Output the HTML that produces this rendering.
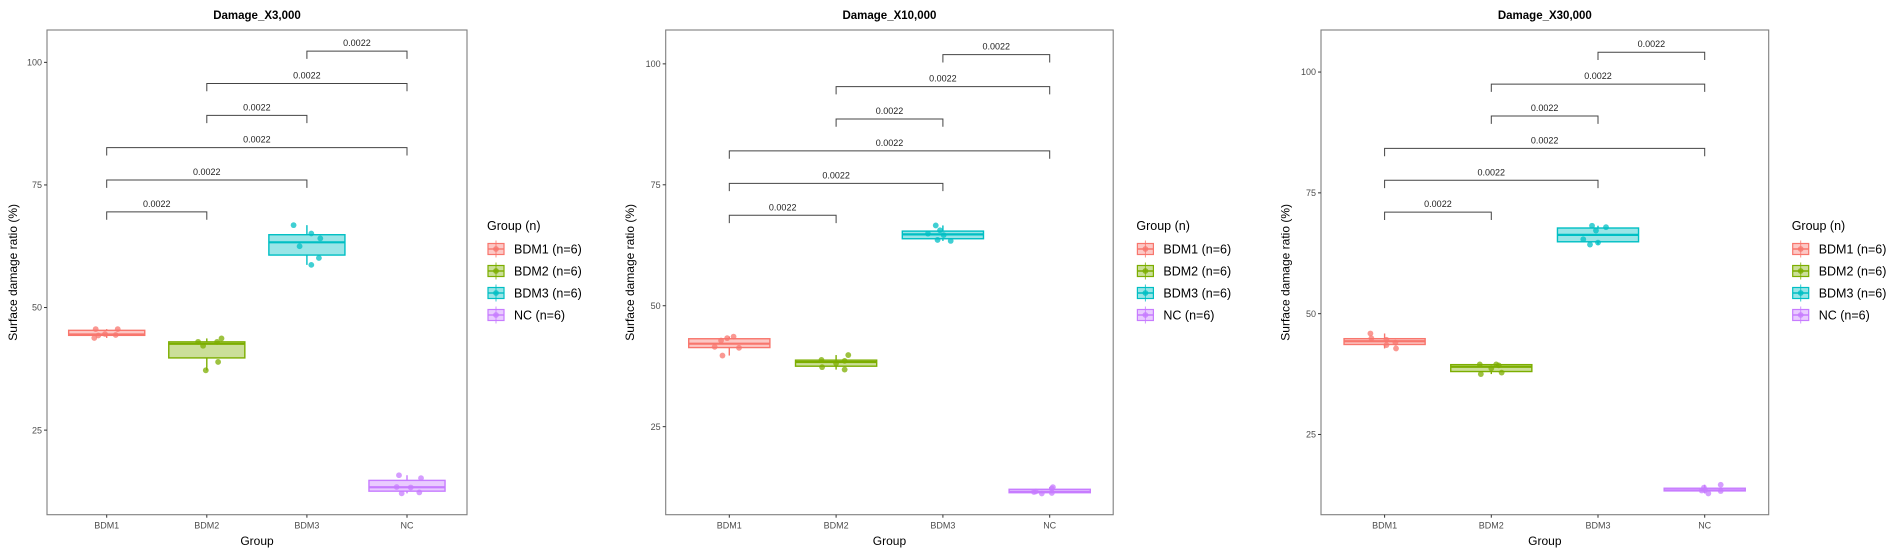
<!DOCTYPE html>
<html><head><meta charset="utf-8"><title>Surface damage ratio box plots</title>
<style>
html,body{margin:0;padding:0;background:#fff;}
svg{display:block;font-family:"Liberation Sans",Arial,sans-serif;}
</style></head>
<body>
<svg id="chart" width="1902" height="557" viewBox="0 0 1902 557" xmlns="http://www.w3.org/2000/svg"></svg>
<script>
// ---- data ----
const categories = ["BDM1","BDM2","BDM3","NC"];
const panelTitles = ["Damage_X3,000","Damage_X10,000","Damage_X30,000"];
const yTicks = [25,50,75,100];
const legendLabels = ["BDM1 (n=6)","BDM2 (n=6)","BDM3 (n=6)","NC (n=6)"];
const pLabel = "0.0022";
const bracketPairs = [[0,1],[0,2],[0,3],[1,2],[1,3],[2,3]];

const p1_BDM1 = [45.6,45.6,43.8,44.6,44.4,44.3];
const p1_BDM2 = [43.0,42.2,43.0,43.7,38.9,37.2];
const p1_BDM3 = [66.8,65.1,64.1,62.5,60.1,58.7];
const p1_NC   = [15.8,15.2,13.4,13.3,12.1,12.3];
const p1_brackets = [69.5,76.0,82.6,89.2,95.7,102.3];

const p2_BDM1 = [41.5,39.7,42.8,43.3,43.6,41.3];
const p2_BDM2 = [38.8,37.3,38.6,36.8,39.8,38.1];
const p2_BDM3 = [66.6,65.6,64.9,63.6,63.4,64.6];
const p2_NC   = [11.5,11.2,12.2,11.3,12.5,11.6];
const p2_brackets = [68.7,75.3,82.0,88.6,95.3,101.9];

const p3_BDM1 = [45.9,44.9,44.6,43.5,44.0,42.8];
const p3_BDM2 = [39.5,37.5,39.5,39.3,37.8,38.7];
const p3_BDM3 = [68.2,67.9,67.2,65.4,64.3,64.7];
const p3_NC   = [14.0,14.6,12.8,13.3,13.4,13.5];
const p3_brackets = [71.0,77.6,84.2,90.9,97.5,104.1];

// jitter offsets (fraction of category spacing)
const jit = [
 [[-0.11,0.11,-0.124,-0.017,0.09,-0.084],[-0.087,-0.037,0.103,0.147,0.113,-0.01],[-0.133,0.044,0.134,-0.073,0.12,0.044],[-0.08,0.14,-0.103,0.037,-0.053,0.123]],
 [[-0.137,-0.064,-0.077,-0.02,0.04,0.091],[-0.137,-0.131,0.08,0.08,0.114,0],[-0.067,-0.027,-0.14,-0.05,0.073,0.007],[-0.148,-0.074,0.02,0.02,0.03,-0.131]],
 [[-0.133,-0.124,0.017,0.017,0.101,0.107],[-0.108,-0.098,0.046,0.07,0.097,0],[-0.056,0.075,-0.019,-0.138,-0.075,0],[-0.007,0.15,0.034,0.15,-0.028,0.003]]
];

const colors = ["#F8766D","#7CAE00","#00BFC4","#C77CFF"];
const panels = [
 {x0:47,x1:467,y0:30,y1:514.7,cat0:106.7,step:100.1,ymin:7.75,ymax:106.6,ytx:13,legX:487,
  groups:[p1_BDM1,p1_BDM2,p1_BDM3,p1_NC],brackets:p1_brackets},
 {x0:665.7,x1:1113.2,y0:30,y1:514.7,cat0:729.3,step:106.8,ymin:6.8,ymax:107.0,ytx:630,legX:1136.4,
  groups:[p2_BDM1,p2_BDM2,p2_BDM3,p2_NC],brackets:p2_brackets},
 {x0:1321,x1:1768.7,y0:30,y1:514.7,cat0:1384.6,step:106.7,ymin:8.4,ymax:108.7,ytx:1285.7,legX:1791.7,
  groups:[p3_BDM1,p3_BDM2,p3_BDM3,p3_NC],brackets:p3_brackets}
];

const svg = document.getElementById('chart');
const NS = "http://www.w3.org/2000/svg";
function mk(tag, attrs, parent){
  const e = document.createElementNS(NS, tag);
  for (const k in attrs) e.setAttribute(k, attrs[k]);
  (parent||svg).appendChild(e);
  return e;
}
function quant(arr, p){
  const s = arr.slice().sort((a,b)=>a-b);
  const h = (s.length-1)*p, lo = Math.floor(h), hi = Math.ceil(h);
  return s[lo] + (s[hi]-s[lo])*(h-lo);
}

panels.forEach((P, pi) => {
  const g = mk('g', {});
  
  
  const ys = v => P.y1 - (v - P.ymin) / (P.ymax - P.ymin) * (P.y1 - P.y0);
  const xs = i => P.cat0 + i * P.step;
  const bw = 0.76 * P.step;

  // title
  const t = mk('text', {x:(P.x0+P.x1)/2, y:19, 'text-anchor':'middle','font-size':'11.5','font-weight':'bold',fill:'#000'}, g);
  t.textContent = panelTitles[pi];
  
  

  // frame
  const fr = mk('rect', {x:P.x0, y:P.y0, width:P.x1-P.x0, height:P.y1-P.y0, fill:'#fff', stroke:'#7f7f7f','stroke-width':'1.1'}, g);
  
  

  // y ticks
  yTicks.forEach(v => {
    const y = ys(v);
    mk('line', {x1:P.x0-3, x2:P.x0, y1:y, y2:y, stroke:'#333','stroke-width':'1'}, g);
    const tl = mk('text', {x:P.x0-5, y:y+3.2, 'text-anchor':'end','font-size':'9',fill:'#4d4d4d'}, g);
    tl.textContent = v;
    
    
  });
  // x ticks
  categories.forEach((c, i) => {
    const x = xs(i);
    mk('line', {x1:x, x2:x, y1:P.y1, y2:P.y1+3, stroke:'#333','stroke-width':'1'}, g);
    const tl = mk('text', {x:x, y:P.y1+14, 'text-anchor':'middle','font-size':'9',fill:'#4d4d4d'}, g);
    tl.textContent = c;
    
    
  });
  // axis titles
  const xt = mk('text', {x:(P.x0+P.x1)/2, y:545, 'text-anchor':'middle','font-size':'12',fill:'#000'}, g);
  xt.textContent = 'Group';
  
  
  const cy = (P.y0+P.y1)/2;
  const yt = mk('text', {x:P.ytx+4, y:cy, 'text-anchor':'middle','font-size':'12',fill:'#000', transform:`rotate(-90 ${P.ytx+4} ${cy})`}, g);
  yt.textContent = 'Surface damage ratio (%)';
  
  

  // boxes
  P.groups.forEach((vals, gi) => {
    const q1 = quant(vals,0.25), med = quant(vals,0.5), q3 = quant(vals,0.75);
    const iqr = q3 - q1;
    const lo = Math.min(...vals.filter(v => v >= q1 - 1.5*iqr));
    const hi = Math.max(...vals.filter(v => v <= q3 + 1.5*iqr));
    const x = xs(gi), col = colors[gi];
    const bg = mk('g', {}, g);
    
    
    mk('line', {x1:x, x2:x, y1:ys(hi), y2:ys(q3), stroke:col,'stroke-width':'1.4'}, bg);
    mk('line', {x1:x, x2:x, y1:ys(q1), y2:ys(lo), stroke:col,'stroke-width':'1.4'}, bg);
    const top = ys(q3), bot = ys(q1);
    mk('rect', {x:x-bw/2, y:top, width:bw, height:Math.max(bot-top,0.5), fill:col,'fill-opacity':'0.4', stroke:col,'stroke-width':'1.4'}, bg);
    mk('line', {x1:x-bw/2, x2:x+bw/2, y1:ys(med), y2:ys(med), stroke:col,'stroke-width':'2.2'}, bg);
    vals.forEach((v, k) => {
      const c = mk('circle', {cx:x + jit[pi][gi][k]*P.step, cy:ys(v), r:'2.9', fill:col,'fill-opacity':'0.75'}, bg);
      
      
    });
  });

  // significance brackets
  bracketPairs.forEach((pr, bi) => {
    const y = ys(P.brackets[bi]);
    const xa = xs(pr[0]), xb = xs(pr[1]);
    const bgp = mk('g', {}, g);
    
    
    mk('path', {d:`M${xa},${y+7.8} L${xa},${y} L${xb},${y} L${xb},${y+7.8}`, fill:'none', stroke:'#444','stroke-width':'1'}, bgp);
    const tl = mk('text', {x:(xa+xb)/2, y:y-5, 'text-anchor':'middle','font-size':'9',fill:'#222'}, bgp);
    tl.textContent = pLabel;
  });

  // legend
  const lg = mk('g', {}, svg);
  
  
  const lt = mk('text', {x:P.legX, y:230, 'font-size':'12.5',fill:'#000'}, lg);
  lt.textContent = 'Group (n)';
  legendLabels.forEach((lab, i) => {
    const cyy = 249 + i*22, col = colors[i], kx = P.legX + 1;
    const eg = mk('g', {}, lg);
    
    
    mk('line', {x1:kx+8, x2:kx+8, y1:cyy-8.5, y2:cyy+8.5, stroke:col,'stroke-width':'1', 'stroke-opacity':'0.8'}, eg);
    mk('rect', {x:kx, y:cyy-5.5, width:16, height:11, fill:col,'fill-opacity':'0.4', stroke:col,'stroke-width':'1.2'}, eg);
    mk('line', {x1:kx, x2:kx+16, y1:cyy, y2:cyy, stroke:col,'stroke-width':'1.4'}, eg);
    mk('circle', {cx:kx+8, cy:cyy, r:'2.9', fill:col,'fill-opacity':'0.8'}, eg);
    const tx = mk('text', {x:kx+26, y:cyy+4.5, 'font-size':'12.5',fill:'#000'}, eg);
    tx.textContent = lab;
  });
});
</script>
</body></html>
